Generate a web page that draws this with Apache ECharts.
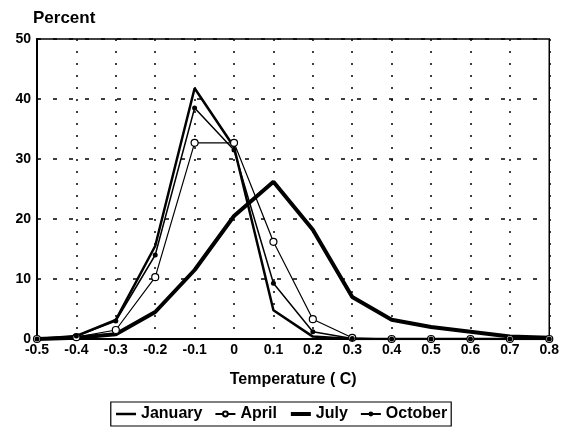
<!DOCTYPE html>
<html><head><meta charset="utf-8">
<script src="https://cdn.jsdelivr.net/npm/echarts@6/dist/echarts.min.js"></script>
<style>html,body{margin:0;padding:0;background:#fff}#c{width:562px;height:429px}</style>
</head><body><div id="c"></div>
<script>
var temps = [-0.5,-0.4,-0.3,-0.2,-0.1,0,0.1,0.2,0.3,0.4,0.5,0.6,0.7,0.8];
var january = [0,0.5,3.2,15.5,41.8,32,4.8,0.4,0,0,0,0,0,0];
var april   = [0,0.3,1.5,10.3,32.7,32.7,16.2,3.3,0.2,0,0,0,0,0];
var july    = [0,0.2,0.8,4.5,11.5,20.5,26.2,18.2,7,3.2,2,1.2,0.4,0.2];
var october = [0,0.5,3,14,38.5,31.5,9.3,1.2,0.1,0,0,0,0,0];
var yTicks = [0,10,20,30,40,50];

function pairs(v){return temps.map(function(t,i){return [t,v[i]];});}
var F = 'Liberation Sans, Arial, sans-serif';
var chart = echarts.init(document.getElementById('c'));
chart.setOption({
  animation:false,
  title:{text:'Percent',left:33,top:10,padding:0,
    textStyle:{color:'#000',fontSize:17,fontWeight:'bold',fontFamily:F}},
  grid:{left:37,right:10,top:39,bottom:90,show:true,borderColor:'#000',borderWidth:1.5},
  xAxis:{type:'value',min:-0.5,max:0.8,interval:0.1,
    name:'Temperature ( C)',nameLocation:'middle',nameGap:33,
    nameTextStyle:{color:'#000',fontSize:16,fontWeight:'bold',fontFamily:F},
    axisLine:{show:true,onZero:false,lineStyle:{color:'#000',width:2}},
    axisTick:{show:false},
    axisLabel:{color:'#000',fontSize:14,fontWeight:'bold',fontFamily:F,margin:4,
      formatter:function(v){var r=Math.round(v*10)/10;return r===0?'0':r.toFixed(1);}},
    splitLine:{show:true,lineStyle:{color:'#000',type:[2,10],width:1.5}}},
  yAxis:{type:'value',min:0,max:50,interval:10,
    axisLine:{show:true,onZero:false,lineStyle:{color:'#000',width:2}},
    axisTick:{show:false},
    axisLabel:{color:'#000',fontSize:14,fontWeight:'bold',fontFamily:F,margin:6,
      formatter:function(v){return yTicks.indexOf(v)>=0?String(v):'';}},
    splitLine:{show:true,lineStyle:{color:'#000',type:[4,12],width:1.5}}},
  legend:{bottom:3,left:'center',itemGap:12,itemWidth:20,itemHeight:6,
    borderColor:'#000',borderWidth:1.2,padding:[4,4,4,4],
    textStyle:{color:'#000',fontSize:16,fontWeight:'bold',fontFamily:F},
    data:[
      {name:'January',itemStyle:{opacity:0},lineStyle:{width:2.5}},
      {name:'April'},
      {name:'July',itemStyle:{opacity:0},lineStyle:{width:4}},
      {name:'October'}
    ]},
  series:[
    {name:'January',type:'line',data:pairs(january),symbol:'none',lineStyle:{color:'#000',width:2.5},itemStyle:{color:'#000'}},
    {name:'April',type:'line',data:pairs(april),symbol:'circle',symbolSize:7,lineStyle:{color:'#000',width:1.2},itemStyle:{color:'#fff',borderColor:'#000',borderWidth:1.2}},
    {name:'July',type:'line',data:pairs(july),symbol:'none',lineStyle:{color:'#000',width:4},itemStyle:{color:'#000'}},
    {name:'October',type:'line',data:pairs(october),symbol:'circle',symbolSize:5,lineStyle:{color:'#000',width:1.5},itemStyle:{color:'#000'}}
  ]
});
</script></body></html>
